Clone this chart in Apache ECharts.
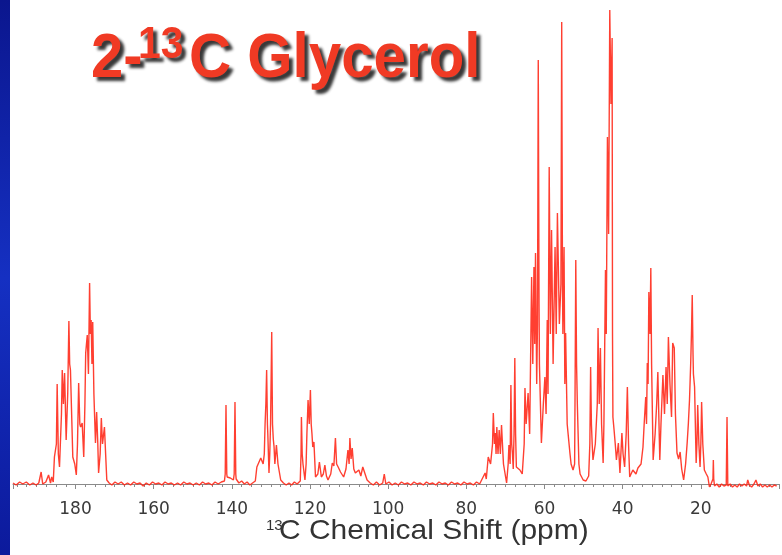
<!DOCTYPE html>
<html>
<head>
<meta charset="utf-8">
<script src="https://cdn.jsdelivr.net/npm/echarts@6/dist/echarts.min.js"></script>
<style>
  html,body{margin:0;padding:0;background:#ffffff;}
  #chart{width:782px;height:555px;}
</style>
</head>
<body>
<div id="chart"></div>
<script>
// [ppm, intensity (a.u.)]
var carbonylRegion = [
  [196.0,1],[195.2,-1],[194.3,2],[193.5,0],[192.6,2],[191.7,-1],[190.9,1],[190.1,-1],[189.4,1],
  [188.8,12],[188.4,0],[187.6,2],[186.9,9],[186.4,1],[186.1,7],[185.7,2],
  [185.4,27],[184.9,40],[184.7,100],[184.4,30],[184.1,17],[183.6,70],[183.4,114],[183.1,80],[182.8,111],[182.4,44],
  [182.0,90],[181.7,163],[181.5,120],[181.3,114],
  [180.7,27],[180.2,20],[179.8,9],[179.5,40],[179.2,101],[178.9,60],[178.7,57],[178.3,61],[177.9,27],[177.6,80],[177.4,131],[177.0,149],
  [176.7,110],[176.4,201],[176.2,150],[176.0,164],[175.8,120],[175.6,162],[175.3,90],[174.9,41],[174.6,72],[174.3,40],[174.1,11],
  [173.7,30],[173.4,66],[173.1,40],[172.6,57],[172.3,30],[172.0,4],[171.4,1],[170.7,-1],[169.9,2],[169.1,0],
  [168.3,2],[167.5,-1],[166.7,1],[165.9,-1],[165.1,2],[164.3,0],[163.5,1],[162.7,-2],[161.9,1],[161.1,-1],
  [160.3,2],[159.5,0],[158.7,1],[157.9,-1],[157.1,2],[156.3,0],[155.5,1],[154.7,-1],[153.9,1],[153.1,-1],
  [152.3,2],[151.5,0],[150.7,1],[149.9,-1],[149.1,1],[148.3,-1],[147.5,2],[146.7,0],[145.9,1],[145.1,-1],
  [144.3,2],[143.5,0],[142.7,2]
];
var aromaticRegion = [
  [141.9,3],[141.7,10],[141.5,79],[141.3,10],[141.2,7],[140.4,6],[139.6,4],[139.4,10],[139.2,82],[139.0,10],[138.9,5],
  [138.2,1],[137.5,3],[136.8,0],[136.1,2],[135.4,-1],[134.7,1],[134.0,3],
  [133.6,17],[132.6,26],[132.0,20],[131.7,30],[131.5,60],[131.3,80],[131.1,114],[130.9,60],[130.8,50],
  [130.5,11],[130.3,30],[130.1,60],[129.8,152],[129.6,60],[129.4,45],[129.2,37],[129.0,20],[128.6,39],[128.2,20],
  [127.5,4],[126.8,1],[126.1,-1],[125.4,1],[124.7,-1],[124.0,2],[123.3,0],[122.8,2],[122.5,3],[122.3,30],[122.2,67],[122.0,30],[121.8,20],[121.3,4],
  [121.0,20],[120.8,50],[120.5,84],[120.2,60],[119.9,94],[119.7,60],[119.5,50],[119.3,37],[119.0,42],[118.6,7],
  [118.0,10],[117.6,22],[117.1,7],[116.6,10],[116.2,19],[115.8,8],[115.4,4],[114.7,10],[114.3,21],[113.9,18],[113.5,46],[113.2,20],[112.8,17],[112.2,12],
  [111.4,7],[110.8,15],[110.3,34],[110.0,20],[109.8,46],[109.5,25],[109.2,36],[108.8,15],[108.4,11],[107.5,14],[107.0,8],[106.5,17],
  [105.4,4],[104.6,1],[103.8,-1],[103.0,2],[102.2,-1],[101.4,1],[101.0,10],[100.6,0],[99.8,2],[99.0,-1],[98.2,1],
  [97.4,-1],[96.6,2],[95.8,0],[95.0,1],[94.2,-1],[93.4,2],[92.6,0],[91.8,1],[91.0,-1],[90.2,2],[89.4,0],
  [88.6,1],[87.8,-1],[87.0,2],[86.2,0],[85.4,1],[84.6,-1],[83.8,2],[83.0,0],[82.2,1],[81.4,-1],[80.6,2],
  [79.8,0],[79.0,1],[78.2,-1],[77.4,2],[76.6,0],[76.1,1]
];
var glycerolRegion = [
  [75.2,11],[74.9,5],[74.4,27],[73.8,20],[73.3,40],[73.1,71],[72.8,40],[72.6,51],[72.4,30],[72.2,57],[71.9,30],
  [71.6,54],[71.3,30],[71.0,59],[70.7,35],[70.5,20],[69.7,1],[69.3,20],[69.1,39],[68.8,20],[68.6,99],[68.4,40],[68.2,30],
  [68.0,15],[67.8,50],[67.6,126],[67.4,50],[67.2,17],[66.3,14],[65.7,10],[65.2,40],[65.0,96],[64.7,60],[64.2,91],[63.8,50],
  [63.3,207],[63.0,120],[62.7,217],[62.5,140],[62.3,231],[62.0,100],[61.8,160],[61.6,424],[61.4,180],[61.3,120],
  [60.8,41],[60.3,80],[59.9,107],[59.6,70],[59.3,164],[59.1,90],[58.8,317],[58.5,150],
  [58.2,254],[57.8,120],[57.3,237],[57.0,150],[56.7,271],[56.2,160],[55.8,200],[55.6,462],[55.4,200],[55.3,150],
  [55.0,237],[54.8,100],[54.6,151],[54.2,60],[53.5,31],[53.2,20],[52.7,14],[52.3,20],
  [52.2,80],[52.0,224],[51.8,120],[51.6,80],[51.2,20],[50.9,10]
];
var midRegion = [
  [50.1,4],[49.4,3],[48.7,8],[48.4,40],[48.2,117],[48.0,60],[47.8,40],[47.6,24],[47.0,40],[46.5,80],[46.3,156],[46.0,80],
  [45.7,136],[45.4,60],[45.0,21],[44.8,60],[44.4,214],[44.2,150],[43.9,347],[43.6,250],
  [43.3,474],[43.0,380],[42.7,446],[42.6,150],[42.5,67],[42.2,54],[41.9,40],[41.6,24],[41.1,41],[40.7,11],
  [40.2,51],[39.9,30],[39.5,17],[39.1,50],[38.8,97],[38.5,40],[38.2,7],[37.4,14],[36.6,10],
  [36.1,16],[35.3,20],[34.8,37],[34.5,60],[34.1,87],[33.9,60],[33.7,121],[33.5,100],[33.3,192],
  [33.0,150],[32.8,216],[32.6,120],[32.2,24]
];
var alkylRegion = [
  [31.7,50],[31.3,80],[31.0,112],[30.5,24],[30.2,60],[29.7,109],[29.3,70],[28.9,117],[28.6,80],
  [28.3,147],[27.9,100],[27.5,67],[27.2,141],[26.8,136],[26.5,70],[26.1,31],[25.7,25],[25.3,32],
  [24.9,15],[24.4,4],[23.9,20],[23.5,41],[23.2,60],[22.9,84],[22.6,120],[22.4,150],[22.2,189],[22.0,130],[21.9,110],
  [21.6,97],[21.2,21],[21.0,40],[20.8,79],[20.5,40],[20.2,17],[20.0,40],[19.8,82],[19.5,40],[19.1,14],[18.6,10],
  [18.2,7],[17.8,-3],[17.4,0],[17.1,-2],[16.9,5],[16.8,24],[16.7,5],[16.5,-2],[15.9,0],[15.3,-3],[14.7,0],[14.1,-2],[13.5,-1],[13.3,67],
  [13.1,-2],[12.5,0],[11.9,-3],[11.3,-1],[10.7,-3],[10.1,0],[9.5,-2],[8.9,0],[8.3,-2],[8.0,4],[7.6,-1],[7.0,-3],[6.4,0],
  [5.9,4],[5.4,-2],[4.8,0],[4.2,-3],[3.6,-1],[3.0,-3],[2.4,-1],[1.8,-3],[1.2,-1],[0.6,-2]
];
var tickLabels = [180,160,140,120,100,80,60,40,20];

var spectrum = [].concat(carbonylRegion, aromaticRegion, glycerolRegion, midRegion, alkylRegion);

var chart = echarts.init(document.getElementById('chart'), null, {renderer:'canvas'});
var titleFont = '"Liberation Sans", Arial, Helvetica, sans-serif';
var shadow = {textShadowColor:'rgba(20,20,20,0.85)', textShadowBlur:3, textShadowOffsetX:4, textShadowOffsetY:4};
function titleStyle(text, size){
  return Object.assign({text:text, font:'bold '+size+'px '+titleFont, fill:'#f03a24',
    align:'left', verticalAlign:'middle'}, shadow);
}
chart.setOption({
  animation:false,
  backgroundColor:'#ffffff',
  grid:{left:13, right:1, top:0, bottom:61, containLabel:false},
  xAxis:{
    type:'value', inverse:true, min:0, max:196, interval:20,
    axisLine:{show:true, lineStyle:{color:'#8a8a8a', width:1}},
    axisTick:{show:true, inside:false, length:5, lineStyle:{color:'#8a8a8a'}},
    minorTick:{show:true, splitNumber:8, length:3, lineStyle:{color:'#8a8a8a'}},
    splitLine:{show:false},
    axisLabel:{
      margin:7, color:'#3a3a3a', fontSize:17, fontFamily:'"DejaVu Sans", sans-serif',
      formatter:function(v){ return tickLabels.indexOf(v) >= 0 ? String(v) : ''; }
    }
  },
  yAxis:{type:'value', min:-10, max:484, show:false, splitLine:{show:false}},
  series:[{
    type:'line', data:spectrum, showSymbol:false, symbol:'none',
    lineStyle:{color:'rgba(255,36,20,0.88)', width:1.4},
    silent:true
  }],
  graphic:[
    {type:'rect', left:0, top:0, shape:{x:0,y:0,width:10,height:555},
      style:{fill:new echarts.graphic.LinearGradient(0,0,0,1,[
        {offset:0,color:'#0b168e'},{offset:0.5,color:'#1530c2'},{offset:1,color:'#0c1a9c'}])}},
    {type:'text', x:91, y:60, scaleX:0.92, style:titleStyle('2-',63)},
    {type:'text', x:138, y:46, scaleX:0.93, style:titleStyle('13',44)},
    {type:'text', x:189, y:60, scaleX:0.925, style:titleStyle('C Glycerol',63)},
    {type:'text', x:266, y:526, style:{text:'13', font:'15px '+titleFont, fill:'#333', verticalAlign:'middle'}},
    {type:'text', x:279, y:531, scaleX:1.07, style:{text:'C Chemical Shift (ppm)', font:'28px '+titleFont, fill:'#333', verticalAlign:'middle'}}
  ]
});
</script>
</body>
</html>
